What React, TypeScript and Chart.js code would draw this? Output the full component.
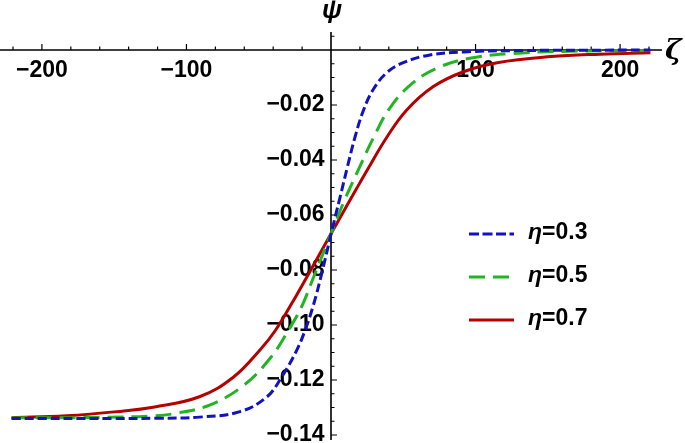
import React, { useEffect, useRef } from 'react';
import { Chart, registerables } from 'chart.js';

Chart.register(...registerables);

// η = 0.3 (blue, short dashes)
const zetaBlue = [-221, -150, -120, -91, -63, -44.5, -34, -24, -18, -12.2, -6.4, 0, 6.2, 11.5, 16.6, 22.4, 29.3, 38.5, 50, 68.5, 92, 130, 221];
const psiBlue = [-0.134, -0.134, -0.1339, -0.1335, -0.1315, -0.1262, -0.1188, -0.1095, -0.102, -0.0928, -0.0812, -0.067, -0.0537, -0.0422, -0.0317, -0.022, -0.0143, -0.0083, -0.0046, -0.0018, -0.0007, -0.0002, 0];

// η = 0.5 (green, long dashes)
const zetaGreen = [-221, -160, -125, -107, -84, -61, -42, -28.4, -20.3, -11.6, 0, 9.7, 20.5, 29.3, 40.8, 57, 75.4, 96, 122, 160, 221];
const psiGreen = [-0.1338, -0.1336, -0.1331, -0.1321, -0.1291, -0.1222, -0.112, -0.101, -0.0933, -0.082, -0.0668, -0.0542, -0.0418, -0.032, -0.021, -0.0118, -0.0061, -0.003, -0.0014, -0.0005, -0.0002];

// η = 0.7 (red, solid)
const zetaRed = [-221, -183, -148, -122, -91, -67.6, -49, -38.5, -27.2, -16.8, 0, 17.8, 25.8, 38.5, 52.4, 70.8, 91.6, 115, 152, 186, 221];
const psiRed = [-0.1337, -0.133, -0.1315, -0.1298, -0.1261, -0.119, -0.109, -0.102, -0.0922, -0.0826, -0.0668, -0.0503, -0.043, -0.0318, -0.0218, -0.0133, -0.0079, -0.0046, -0.0024, -0.0015, -0.001];

const etaLabels = ['0.3', '0.5', '0.7'];
const xTickValues = [-200, -100, 100, 200];
const yTickValues = [-0.02, -0.04, -0.06, -0.08, -0.1, -0.12, -0.14];

const BLUE = '#1212c0';
const GREEN = '#22b422';
const RED = '#b40000';
const FONT = '"Liberation Sans", Arial, sans-serif';

export default function App() {
  const ref = useRef<HTMLCanvasElement>(null);

  useEffect(() => {
    if (!ref.current) return;
    const toPts = (xs: number[], ys: number[]) => xs.map((x, i) => ({ x, y: ys[i] }));

    const axesPlugin = {
      id: 'mathAxes',
      beforeDatasetsDraw(chart: any) {
        const { ctx, chartArea, scales } = chart;
        const sx = scales.x;
        const sy = scales.y;
        const x0 = sx.getPixelForValue(0);
        const y0 = sy.getPixelForValue(0);
        ctx.save();
        ctx.strokeStyle = '#000';
        ctx.lineWidth = 1.6;
        ctx.beginPath();
        ctx.moveTo(chartArea.left, y0);
        ctx.lineTo(chartArea.right, y0);
        ctx.moveTo(x0, chartArea.top);
        ctx.lineTo(x0, chartArea.bottom);
        ctx.stroke();
        ctx.lineWidth = 1.2;
        ctx.beginPath();
        for (let k = -11; k <= 11; k++) {
          if (k === 0) continue;
          const v = k * 20;
          const px = sx.getPixelForValue(v);
          const len = k % 5 === 0 ? 6 : 3.5;
          ctx.moveTo(px, y0);
          ctx.lineTo(px, y0 - len);
        }
        for (let k = -28; k <= 1; k++) {
          if (k === 0) continue;
          const v = k * 0.005;
          const py = sy.getPixelForValue(v);
          const len = k % 4 === 0 ? 6 : 3.5;
          ctx.moveTo(x0, py);
          ctx.lineTo(x0 + len, py);
        }
        ctx.stroke();
        ctx.restore();
      },
      afterDraw(chart: any) {
        const { ctx, chartArea, scales } = chart;
        const x0 = scales.x.getPixelForValue(0);
        const y0 = scales.y.getPixelForValue(0);
        ctx.save();
        ctx.fillStyle = '#000';
        ctx.textBaseline = 'alphabetic';
        ctx.textAlign = 'center';
        ctx.font = `bold italic 26px ${FONT}`;
        ctx.fillText('\u03c8', x0 + 1, 18);
        ctx.textAlign = 'left';
        ctx.font = `bold italic 28px "DejaVu Serif", serif`;
        ctx.fillText('\u03b6', chartArea.right + 3, y0 + 9);

        // legend
        const items = [
          { color: BLUE, dash: [10, 3.5], label: etaLabels[0] },
          { color: GREEN, dash: [16, 8], label: etaLabels[1] },
          { color: RED, dash: [], label: etaLabels[2] },
        ];
        const ys = [234, 277, 320];
        items.forEach((it, i) => {
          const ly = ys[i];
          ctx.strokeStyle = it.color;
          ctx.lineWidth = 3;
          ctx.setLineDash(it.dash);
          ctx.beginPath();
          ctx.moveTo(469, ly);
          ctx.lineTo(514, ly);
          ctx.stroke();
          ctx.setLineDash([]);
          ctx.font = `bold italic 23px ${FONT}`;
          ctx.fillText('\u03b7', 528, ly + 5);
          const w = ctx.measureText('\u03b7').width;
          ctx.font = `bold 23px ${FONT}`;
          ctx.fillText('=' + it.label, 528 + w, ly + 5);
        });
        ctx.restore();
      },
    };

    const zeroPad = (s: any) => {
      s.paddingTop = 0;
      s.paddingBottom = 0;
      s.paddingLeft = 0;
      s.paddingRight = 0;
    };

    const common = { fill: false, pointRadius: 0, borderWidth: 3, tension: 0.4 };

    const chart = new Chart(ref.current, {
      type: 'line',
      data: {
        datasets: [
          { ...common, label: '\u03b7=' + etaLabels[0], data: toPts(zetaBlue, psiBlue), borderColor: BLUE, borderDash: [9, 4] },
          { ...common, label: '\u03b7=' + etaLabels[1], data: toPts(zetaGreen, psiGreen), borderColor: GREEN, borderDash: [16, 8] },
          { ...common, label: '\u03b7=' + etaLabels[2], data: toPts(zetaRed, psiRed), borderColor: RED },
        ],
      },
      options: {
        animation: false,
        responsive: false,
        devicePixelRatio: 1,
        layout: { padding: { left: 0, right: 23, top: 32, bottom: 3 } },
        plugins: { legend: { display: false }, tooltip: { enabled: false } },
        scales: {
          x: {
            type: 'linear',
            position: { y: 0 } as any,
            min: -229,
            max: 229,
            grid: { display: false, drawTicks: false },
            border: { display: false },
            afterBuildTicks: (s: any) => { s.ticks = xTickValues.map((v) => ({ value: v })); },
            afterFit: zeroPad,
            ticks: {
              autoSkip: false,
              maxRotation: 0,
              padding: 7,
              color: '#000',
              font: { family: FONT, size: 23, weight: 'bold' },
              callback: (v: any) => (v < 0 ? '\u2212' + Math.abs(v) : String(v)),
            },
          },
          y: {
            type: 'linear',
            position: { x: 0 } as any,
            min: -0.14182,
            max: 0.00655,
            grid: { display: false, drawTicks: false },
            border: { display: false },
            afterBuildTicks: (s: any) => { s.ticks = yTickValues.map((v) => ({ value: v })); },
            afterFit: zeroPad,
            ticks: {
              autoSkip: false,
              padding: 6,
              color: '#000',
              font: { family: FONT, size: 23, weight: 'bold' },
              callback: (v: any) => '\u2212' + Math.abs(v).toFixed(2) + ' ',
            },
          },
        },
      },
      plugins: [axesPlugin],
    });
    return () => chart.destroy();
  }, []);

  return (
    <div style={{ position: 'fixed', left: 0, top: 0, width: 685, height: 443, background: '#fff' }}>
      <canvas ref={ref} width={685} height={443} />
    </div>
  );
}
